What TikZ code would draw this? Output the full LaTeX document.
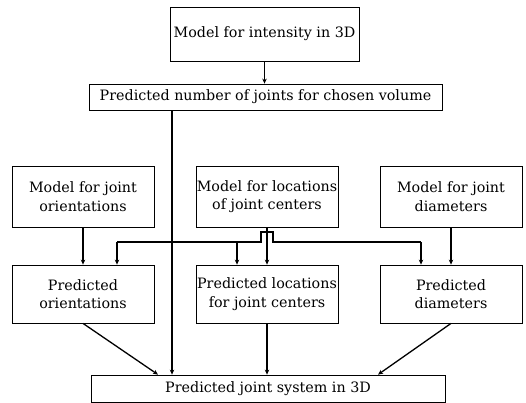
\documentclass[tikz,border=0pt]{standalone}
\usepackage{fontspec}
\setmainfont{DejaVu Serif}
\usetikzlibrary{arrows.meta}
\begin{document}
\begin{tikzpicture}[x=1pt,y=-1pt,
  box/.style={draw,line width=0.8pt,align=center,inner sep=0pt,font=\fontsize{14.3}{18.5}\selectfont},
  conn/.style={line width=1.3pt},
  arr/.style={conn,-{Stealth[length=5pt,width=4.5pt]}}]
\useasboundingbox (0,0) rectangle (526,403);
\node[box,minimum width=189,minimum height=54] (top) at (264.5,34) {Model for intensity in 3D};
\node[box,minimum width=353,minimum height=26] (num) at (265.5,97) {Predicted number of joints for chosen volume};
\node[box,minimum width=142,minimum height=61] (mo) at (83,196.5) {Model for joint\\orientations};
\node[box,minimum width=142,minimum height=61] (ml) at (267,196.5) {Model for locations\\of joint centers};
\node[box,minimum width=142,minimum height=61] (md) at (451,196.5) {Model for joint\\diameters};
\node[box,minimum width=142,minimum height=58] (po) at (83,294) {Predicted\\orientations};
\node[box,minimum width=142,minimum height=58] (pl) at (267,294) {Predicted locations\\for joint centers};
\node[box,minimum width=142,minimum height=58] (pd) at (451,294) {Predicted\\diameters};
\node[box,minimum width=354,minimum height=27] (sys) at (268,388.5) {Predicted joint system in 3D};
% bus coordinates
\coordinate (jn) at (172,242);
\coordinate (b1) at (117,242);
\coordinate (b2) at (237,242);
\coordinate (b3) at (421,242);
\coordinate (h1) at (261,242);
\coordinate (h2) at (273,242);
\coordinate (hop) at (0,232);
\coordinate (dl) at (158,0);
\coordinate (dr) at (378,0);
% connectors
\draw[arr] (top.south) -- (num.north -| top.south);
\draw[arr] (num.south -| jn) -- (sys.north -| jn);
\draw[conn] (b1) -- (h1) -- (h1 |- hop) -- (h2 |- hop) -- (h2) -- (b3);
\draw[arr] (b1) -- (po.north -| b1);
\draw[arr] (b2) -- (pl.north -| b2);
\draw[arr] (b3) -- (pd.north -| b3);
\draw[arr] (mo.south) -- (po.north);
\draw[arr] (ml.south) -- (pl.north);
\draw[arr] (md.south) -- (pd.north);
\draw[arr] (po.south) -- (sys.north -| dl);
\draw[arr] (pl.south) -- (sys.north -| pl.south);
\draw[arr] (pd.south) -- (sys.north -| dr);
\end{tikzpicture}
\end{document}
